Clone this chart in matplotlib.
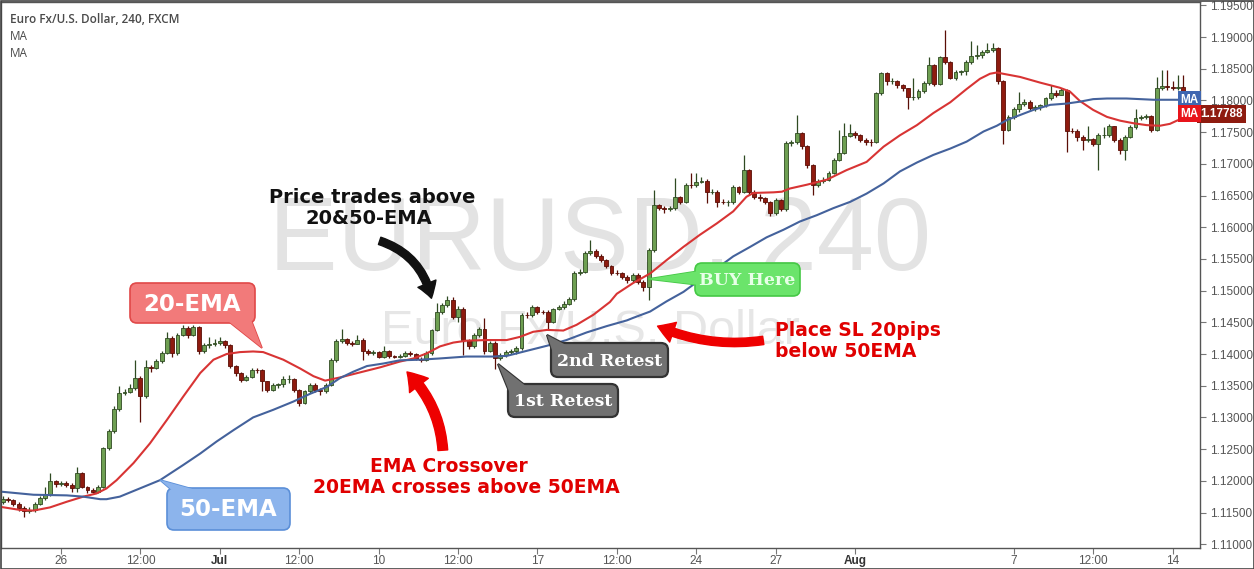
import matplotlib
matplotlib.use("Agg")
import matplotlib.pyplot as plt
from matplotlib.patches import FancyBboxPatch, Polygon, FancyArrowPatch, Rectangle
from matplotlib.transforms import blended_transform_factory
import numpy as np

W, H = 1254, 569

# ---------------- data (EUR/USD 4H candles) ----------------
first_open = 1.1166
closes = [1.1172, 1.1170, 1.1164, 1.1157, 1.1153, 1.1154, 1.1164, 1.1173, 1.1178, 1.1199,
          1.1195, 1.1196, 1.1194, 1.1188, 1.1213, 1.1191, 1.1185, 1.1183, 1.1191, 1.1251,
          1.1278, 1.1313, 1.1339, 1.1340, 1.1347, 1.1362, 1.1333, 1.1379, 1.1378, 1.1389,
          1.1402, 1.1426, 1.1402, 1.1430, 1.1441, 1.1430, 1.1442, 1.1405, 1.1414, 1.1415,
          1.1417, 1.1420, 1.1414, 1.1381, 1.1370, 1.1359, 1.1364, 1.1375, 1.1374, 1.1357,
          1.1344, 1.1351, 1.1352, 1.1360, 1.1361, 1.1343, 1.1323, 1.1341, 1.1351, 1.1343,
          1.1341, 1.1351, 1.1391, 1.1420, 1.1424, 1.1417, 1.1416, 1.1422, 1.1404, 1.1402,
          1.1403, 1.1396, 1.1405, 1.1397, 1.1396, 1.1397, 1.1401, 1.1400, 1.1392, 1.1391,
          1.1401, 1.1438, 1.1467, 1.1477, 1.1485, 1.1459, 1.1471, 1.1422, 1.1413, 1.1430,
          1.1439, 1.1405, 1.1417, 1.1393, 1.1399, 1.1403, 1.1404, 1.1409, 1.1462, 1.1461,
          1.1474, 1.1467, 1.1466, 1.1451, 1.1471, 1.1474, 1.1479, 1.1486, 1.1527, 1.1530,
          1.1559, 1.1563, 1.1555, 1.1548, 1.1539, 1.1528, 1.1527, 1.1522, 1.1516, 1.1525,
          1.1514, 1.1506, 1.1564, 1.1635, 1.1631, 1.1628, 1.1630, 1.1648, 1.1640, 1.1667,
          1.1666, 1.1672, 1.1673, 1.1655, 1.1656, 1.1640, 1.1639, 1.1640, 1.1663, 1.1656,
          1.1690, 1.1656, 1.1648, 1.1646, 1.1640, 1.1623, 1.1643, 1.1628, 1.1733, 1.1734,
          1.1749, 1.1728, 1.1698, 1.1666, 1.1673, 1.1675, 1.1686, 1.1706, 1.1717, 1.1744,
          1.1749, 1.1745, 1.1738, 1.1735, 1.1734, 1.1811, 1.1843, 1.1830, 1.1831, 1.1824,
          1.1819, 1.1805, 1.1806, 1.1815, 1.1827, 1.1856, 1.1826, 1.1869, 1.1860, 1.1836,
          1.1845, 1.1846, 1.1860, 1.1870, 1.1871, 1.1877, 1.1880, 1.1882, 1.1830, 1.1754,
          1.1774, 1.1786, 1.1795, 1.1798, 1.1788, 1.1789, 1.1792, 1.1803, 1.1812, 1.1809,
          1.1816, 1.1752, 1.1751, 1.1743, 1.1738, 1.1739, 1.1732, 1.1745, 1.1746, 1.1759,
          1.1738, 1.1722, 1.1743, 1.1758, 1.1773, 1.1774, 1.1775, 1.1754, 1.1819, 1.1822,
          1.1821, 1.1820, 1.1821, 1.1806, 1.1799, 1.1789]
highs = [1.1176, 1.1175, 1.1172, 1.1166, 1.1160, 1.1158, 1.1166, 1.1176, 1.1190, 1.1212,
         1.1202, 1.1200, 1.1199, 1.1196, 1.1221, 1.1214, 1.1192, 1.1188, 1.1193, 1.1253,
         1.1281, 1.1318, 1.1350, 1.1345, 1.1352, 1.1391, 1.1365, 1.1391, 1.1383, 1.1392,
         1.1405, 1.1435, 1.1428, 1.1433, 1.1445, 1.1444, 1.1446, 1.1444, 1.1418, 1.1427,
         1.1424, 1.1427, 1.1422, 1.1416, 1.1383, 1.1372, 1.1367, 1.1378, 1.1378, 1.1376,
         1.1358, 1.1354, 1.1355, 1.1366, 1.1367, 1.1362, 1.1345, 1.1344, 1.1354, 1.1354,
         1.1346, 1.1354, 1.1393, 1.1423, 1.1440, 1.1426, 1.1420, 1.1430, 1.1425, 1.1408,
         1.1406, 1.1405, 1.1412, 1.1407, 1.1399, 1.1400, 1.1404, 1.1404, 1.1402, 1.1395,
         1.1404, 1.1440, 1.1480, 1.1480, 1.1491, 1.1490, 1.1475, 1.1474, 1.1424, 1.1433,
         1.1443, 1.1456, 1.1420, 1.1420, 1.1402, 1.1406, 1.1408, 1.1412, 1.1464, 1.1466,
         1.1477, 1.1476, 1.1470, 1.1469, 1.1473, 1.1478, 1.1483, 1.1490, 1.1531, 1.1534,
         1.1562, 1.1580, 1.1565, 1.1557, 1.1550, 1.1540, 1.1532, 1.1530, 1.1524, 1.1528,
         1.1527, 1.1516, 1.1567, 1.1659, 1.1637, 1.1634, 1.1633, 1.1677, 1.1650, 1.1670,
         1.1686, 1.1686, 1.1679, 1.1676, 1.1661, 1.1658, 1.1645, 1.1643, 1.1666, 1.1665,
         1.1714, 1.1692, 1.1658, 1.1652, 1.1648, 1.1642, 1.1646, 1.1645, 1.1736, 1.1738,
         1.1777, 1.1750, 1.1730, 1.1700, 1.1676, 1.1679, 1.1689, 1.1709, 1.1753, 1.1764,
         1.1763, 1.1752, 1.1747, 1.1740, 1.1739, 1.1814, 1.1845, 1.1845, 1.1835, 1.1832,
         1.1826, 1.1820, 1.1836, 1.1818, 1.1830, 1.1869, 1.1858, 1.1870, 1.1911, 1.1862,
         1.1848, 1.1848, 1.1863, 1.1894, 1.1887, 1.1880, 1.1890, 1.1890, 1.1884, 1.1832,
         1.1777, 1.1789, 1.1814, 1.1802, 1.1800, 1.1792, 1.1795, 1.1806, 1.1824, 1.1816,
         1.1819, 1.1818, 1.1757, 1.1755, 1.1746, 1.1760, 1.1740, 1.1748, 1.1758, 1.1763,
         1.1760, 1.1740, 1.1746, 1.1761, 1.1786, 1.1777, 1.1778, 1.1777, 1.1837, 1.1848,
         1.1848, 1.1830, 1.1840, 1.1840, 1.1808, 1.1800]
lows = [1.1163, 1.1166, 1.1160, 1.1152, 1.1143, 1.1149, 1.1151, 1.1162, 1.1170, 1.1176,
        1.1190, 1.1192, 1.1190, 1.1183, 1.1183, 1.1188, 1.1180, 1.1180, 1.1181, 1.1189,
        1.1249, 1.1275, 1.1310, 1.1335, 1.1338, 1.1343, 1.1293, 1.1330, 1.1372, 1.1376,
        1.1386, 1.1400, 1.1395, 1.1398, 1.1428, 1.1426, 1.1428, 1.1400, 1.1402, 1.1410,
        1.1412, 1.1414, 1.1410, 1.1378, 1.1366, 1.1356, 1.1357, 1.1362, 1.1370, 1.1342,
        1.1340, 1.1342, 1.1347, 1.1348, 1.1355, 1.1340, 1.1318, 1.1321, 1.1338, 1.1340,
        1.1336, 1.1338, 1.1349, 1.1387, 1.1418, 1.1414, 1.1413, 1.1415, 1.1391, 1.1398,
        1.1398, 1.1393, 1.1394, 1.1393, 1.1393, 1.1394, 1.1395, 1.1397, 1.1390, 1.1388,
        1.1389, 1.1399, 1.1436, 1.1463, 1.1474, 1.1455, 1.1450, 1.1398, 1.1408, 1.1410,
        1.1427, 1.1400, 1.1403, 1.1376, 1.1390, 1.1396, 1.1400, 1.1400, 1.1407, 1.1457,
        1.1458, 1.1463, 1.1463, 1.1440, 1.1449, 1.1469, 1.1471, 1.1477, 1.1484, 1.1524,
        1.1528, 1.1556, 1.1551, 1.1545, 1.1535, 1.1525, 1.1524, 1.1519, 1.1512, 1.1514,
        1.1510, 1.1500, 1.1485, 1.1561, 1.1627, 1.1622, 1.1625, 1.1627, 1.1636, 1.1638,
        1.1662, 1.1663, 1.1669, 1.1638, 1.1652, 1.1632, 1.1636, 1.1634, 1.1637, 1.1652,
        1.1654, 1.1651, 1.1644, 1.1641, 1.1636, 1.1617, 1.1620, 1.1625, 1.1626, 1.1728,
        1.1731, 1.1724, 1.1694, 1.1651, 1.1663, 1.1670, 1.1673, 1.1684, 1.1704, 1.1715,
        1.1742, 1.1740, 1.1734, 1.1730, 1.1728, 1.1733, 1.1808, 1.1825, 1.1826, 1.1820,
        1.1815, 1.1787, 1.1801, 1.1802, 1.1812, 1.1825, 1.1822, 1.1824, 1.1857, 1.1833,
        1.1832, 1.1840, 1.1840, 1.1857, 1.1866, 1.1867, 1.1874, 1.1877, 1.1826, 1.1731,
        1.1751, 1.1771, 1.1782, 1.1791, 1.1784, 1.1783, 1.1785, 1.1790, 1.1800, 1.1806,
        1.1808, 1.1719, 1.1748, 1.1736, 1.1722, 1.1734, 1.1728, 1.1690, 1.1740, 1.1742,
        1.1734, 1.1715, 1.1706, 1.1740, 1.1755, 1.1769, 1.1770, 1.1750, 1.1752, 1.1816,
        1.1816, 1.1816, 1.1816, 1.1803, 1.1795, 1.1785]

# moving averages (candle position, price)
ma20_x = [-0.5, 3.3, 5.8, 8.9, 12.1, 15.2, 17.7, 19.6, 21.5, 24.7, 27.8, 31.0, 34.1, 37.3,
          39.8, 42.3, 44.8, 47.3, 49.2, 53.0, 56.2, 58.7, 60.9, 63.7, 67.5, 71.3, 75.0, 77.6,
          80.1, 82.6, 85.1, 87.6, 91.4, 95.2, 97.7, 100.2, 102.8, 105.9, 108.4, 111.6, 114.7,
          116.0, 119.1, 122.3, 125.4, 128.6, 131.7, 134.9, 138.0, 140.5, 141.8, 145.6, 147.2,
          148.7, 151.9, 155.7, 159.4, 163.2, 166.4, 169.5, 172.7, 175.8, 179.0, 182.1, 184.6,
          186.5, 187.8, 189.0, 192.2, 196.0, 199.7, 201.6, 203.5, 206.0, 208.6, 211.1, 213.6,
          216.1, 218.6, 220.5, 221.8, 223.5, 225.0]
ma20_y = [1.1159, 1.1154, 1.1153, 1.1158, 1.1167, 1.1175, 1.1180, 1.1188, 1.1201, 1.1228,
          1.1259, 1.1296, 1.1333, 1.1370, 1.1391, 1.1400, 1.1403, 1.1404, 1.1403, 1.1391,
          1.1377, 1.1365, 1.1358, 1.1363, 1.1371, 1.1379, 1.1388, 1.1393, 1.1401, 1.1412,
          1.1418, 1.1421, 1.1422, 1.1422, 1.1427, 1.1435, 1.1438, 1.1437, 1.1446, 1.1462,
          1.1482, 1.1495, 1.1512, 1.1527, 1.1548, 1.1569, 1.1588, 1.1606, 1.1625, 1.1648,
          1.1654, 1.1655, 1.1656, 1.1661, 1.1667, 1.1675, 1.1690, 1.1703, 1.1727, 1.1745,
          1.1761, 1.1780, 1.1797, 1.1818, 1.1834, 1.1842, 1.1844, 1.1842, 1.1837, 1.1828,
          1.1820, 1.1814, 1.1799, 1.1785, 1.1774, 1.1768, 1.1764, 1.1761, 1.1760, 1.1763,
          1.1768, 1.1774, 1.1778]
ma50_x = [-0.5, 5.8, 12.1, 15.2, 18.4, 19.6, 22.1, 25.9, 29.7, 34.1, 37.3, 40.4, 43.6, 47.3,
          51.1, 54.9, 58.0, 61.2, 63.7, 66.2, 68.8, 71.9, 75.0, 78.8, 82.6, 87.6, 92.7, 95.2,
          99.0, 102.8, 106.5, 110.3, 114.1, 117.9, 119.1, 122.3, 125.4, 128.6, 131.7, 134.9,
          138.0, 141.2, 144.3, 147.5, 150.6, 153.8, 156.9, 160.1, 163.2, 166.4, 169.5, 172.7,
          175.8, 179.0, 182.1, 185.3, 187.8, 189.7, 192.2, 194.7, 197.9, 201.0, 203.5, 206.0,
          208.6, 212.3, 214.9, 217.4, 221.2, 225.0]
ma50_y = [1.1183, 1.1178, 1.1177, 1.1175, 1.1171, 1.1171, 1.1175, 1.1188, 1.1201, 1.1225,
          1.1243, 1.1262, 1.1280, 1.1300, 1.1312, 1.1325, 1.1337, 1.1348, 1.1362, 1.1372,
          1.1381, 1.1385, 1.1390, 1.1391, 1.1393, 1.1396, 1.1396, 1.1397, 1.1405, 1.1413,
          1.1422, 1.1434, 1.1444, 1.1453, 1.1457, 1.1467, 1.1483, 1.1498, 1.1517, 1.1535,
          1.1554, 1.1569, 1.1584, 1.1596, 1.1609, 1.1619, 1.1630, 1.1640, 1.1653, 1.1669,
          1.1688, 1.1702, 1.1714, 1.1724, 1.1735, 1.1751, 1.1760, 1.1769, 1.1777, 1.1785,
          1.1793, 1.1795, 1.1798, 1.1802, 1.1803, 1.1803, 1.1802, 1.1801, 1.1801, 1.1801]

tick_pos = [11, 26, 41, 56, 71, 86, 101, 116, 131, 146, 161, 191, 206, 221]
tick_labels = ['26', '12:00', 'Jul', '12:00', '10', '12:00', '17', '12:00',
               '24', '27', 'Aug', '7', '12:00', '14']
y_ticks = [1.110, 1.115, 1.120, 1.125, 1.130, 1.135, 1.140, 1.145, 1.150,
           1.155, 1.160, 1.165, 1.170, 1.175, 1.180, 1.185, 1.190, 1.195]
last_price = 1.17788

# ---------------- figure ----------------
fig = plt.figure(figsize=(W / 100, H / 100), dpi=100, facecolor='white')

bg = fig.add_axes([0, 0, 1, 1], zorder=0)
bg.set_xlim(0, W); bg.set_ylim(H, 0); bg.axis('off')

ax_l, ax_r, ax_t, ax_b = 1, 1200, 2, 548
ax = fig.add_axes([ax_l / W, 1 - ax_b / H, (ax_r - ax_l) / W, (ax_b - ax_t) / H], zorder=1)
ax.set_facecolor('none')

ov = fig.add_axes([0, 0, 1, 1], zorder=3)
ov.set_xlim(0, W); ov.set_ylim(H, 0); ov.axis('off')
ov.patch.set_alpha(0)

# watermarks
bg.text(600, 243, 'EURUSD, 240', fontsize=74, family='Liberation Sans', color='#E3E3E3',
        ha='center', va='center')
bg.text(590, 331, 'Euro Fx/U.S. Dollar', fontsize=35, family='Liberation Sans', color='#E6E6E6',
        ha='center', va='center')

# candles
n = len(closes)
x = np.arange(n)
opens = np.array([first_open] + closes[:-1])
c = np.array(closes)
hi = np.maximum(np.array(highs), np.maximum(opens, c))
lo = np.minimum(np.array(lows), np.minimum(opens, c))
up = c >= opens
green_fc, green_ec = '#6E9F52', '#2F4A22'
red_fc, red_ec = '#8E1B0F', '#5A0E06'
fcs = [green_fc if u else red_fc for u in up]
ecs = [green_ec if u else red_ec for u in up]
ax.vlines(x, lo, hi, colors=ecs, linewidth=0.9, zorder=2)
body_h = np.maximum(np.abs(c - opens), 0.00004)
body_b = np.minimum(c, opens)
ax.bar(x, body_h, bottom=body_b, width=0.74, color=fcs, edgecolor=ecs, linewidth=0.6, zorder=3)

# moving averages
ax.plot(ma20_x, ma20_y, color='#D83434', linewidth=1.5, zorder=4, solid_joinstyle='round')
ax.plot(ma50_x, ma50_y, color='#44629C', linewidth=1.5, zorder=4, solid_joinstyle='round')

px_per = 5.293
x0 = 2.8
ax.set_xlim((ax_l - x0) / px_per, (ax_r - x0) / px_per)
ax.set_ylim(1.19 - (ax_b - 37) * 0.005 / 31.7, 1.19 + (37 - ax_t) * 0.005 / 31.7)

ax.yaxis.tick_right()
ax.set_yticks(y_ticks)
ax.set_yticklabels([f'{v:.5f}' for v in y_ticks])
ax.set_xticks(tick_pos)
ax.set_xticklabels(tick_labels)
for lab in ax.get_xticklabels() + ax.get_yticklabels():
    lab.set_family('Liberation Sans')
    lab.set_fontsize(8.5)
    lab.set_color('#555555')
for lab in ax.get_xticklabels():
    if lab.get_text() in ('Jul', 'Aug'):
        lab.set_fontweight('bold')
        lab.set_color('#333333')
ax.tick_params(axis='y', direction='out', length=4, width=0.8, color='#777777', pad=3)
ax.tick_params(axis='x', direction='out', length=4, width=0.8, color='#777777', pad=1)
for s in ax.spines.values():
    s.set_color('#555555')
    s.set_linewidth(1.0)

# right side labels
bt = blended_transform_factory(ax.transAxes, ax.transData)
ax.text(1.0, last_price, '1.17788', transform=bt, ha='left', va='center', fontsize=8.5,
        family='Liberation Sans', weight='bold', color='white', clip_on=False, zorder=10,
        bbox=dict(boxstyle='square,pad=0.28', fc='#8E1B0F', ec='none'))
ax.text(0.9985, ma50_y[-1], 'MA', transform=bt, ha='right', va='center', fontsize=8.5,
        family='Liberation Sans', weight='bold', color='white', clip_on=False, zorder=9,
        bbox=dict(boxstyle='square,pad=0.2', fc='#3F66B0', ec='none'))
ax.text(0.9985, last_price, 'MA', transform=bt, ha='right', va='center', fontsize=8.5,
        family='Liberation Sans', weight='bold', color='white', clip_on=False, zorder=10,
        bbox=dict(boxstyle='square,pad=0.2', fc='#E8141B', ec='none'))

# header
ov.text(10, 19, 'Euro Fx/U.S. Dollar, 240, FXCM', fontsize=8.5, family='Open Sans',
        weight='semibold', color='#4A4A4A', va='center', ha='left')
ov.text(10, 36, 'MA', fontsize=8.5, family='Open Sans', color='#4A4A4A', va='center', ha='left')
ov.text(10, 53, 'MA', fontsize=8.5, family='Open Sans', color='#4A4A4A', va='center', ha='left')

# outer border
ov.add_patch(Rectangle((0.5, 0.5), W - 1, H - 1, fill=False, ec='#444444', lw=1.2, zorder=20))


def bubble(x0b, y0b, x1b, y1b, tail, fc, ec, text, tcolor, fs, family, r=7, lw=1.2):
    ov.add_patch(Polygon(tail, closed=True, fc=fc, ec=ec, lw=lw, zorder=5))
    ov.add_patch(FancyBboxPatch((x0b, y0b), x1b - x0b, y1b - y0b,
                                boxstyle=f'round,pad=0,rounding_size={r}',
                                fc=fc, ec=ec, lw=lw, zorder=6))
    ov.add_patch(Polygon(tail, closed=True, fc=fc, ec='none', zorder=7))
    ov.text((x0b + x1b) / 2, (y0b + y1b) / 2 + 1, text, ha='center', va='center',
            fontsize=fs, family=family, weight='bold', color=tcolor, zorder=8)


bubble(130, 283, 255, 323, [(228, 321), (250, 317), (262, 348)],
       '#F27A7A', '#E04848', '20-EMA', 'white', 16.5, 'DejaVu Sans')
bubble(167, 488, 290, 530, [(174, 492), (196, 490), (160, 480)],
       '#8CB4EC', '#5B8FD8', '50-EMA', 'white', 16.5, 'DejaVu Sans')
bubble(695, 263, 800, 296, [(699, 271), (699, 285), (648, 279)],
       '#6BE46B', '#45C845', 'BUY Here', '#E8FFE8', 12.5, 'DejaVu Serif')
bubble(551, 343, 668, 377, [(547, 335), (554, 356), (568, 346)],
       '#717171', '#333333', '2nd Retest', 'white', 12.5, 'DejaVu Serif', lw=1.6)
bubble(508, 384, 618, 417, [(498, 364), (511, 396), (527, 387)],
       '#717171', '#333333', '1st Retest', 'white', 12.5, 'DejaVu Serif', lw=1.6)

# annotation texts
ov.text(372, 197, 'Price trades above', ha='center', va='center', fontsize=14,
        family='DejaVu Sans', weight='bold', color='#111111')
ov.text(369, 218, '20&50-EMA', ha='center', va='center', fontsize=14,
        family='DejaVu Sans', weight='bold', color='#111111')
ov.text(449, 466, 'EMA Crossover', ha='center', va='center', fontsize=13.5,
        family='DejaVu Sans', weight='bold', color='#E00000')
ov.text(466, 487, '20EMA crosses above 50EMA', ha='center', va='center', fontsize=13.5,
        family='DejaVu Sans', weight='bold', color='#E00000')
ov.text(775, 330, 'Place SL 20pips', ha='left', va='center', fontsize=13.5,
        family='DejaVu Sans', weight='bold', color='#E00000')
ov.text(775, 351, 'below 50EMA', ha='left', va='center', fontsize=13.5,
        family='DejaVu Sans', weight='bold', color='#E00000')

# arrows
ov.add_patch(FancyArrowPatch((377, 240), (432, 301), transform=ov.transData,
                             connectionstyle='arc3,rad=-0.3',
                             arrowstyle='simple,head_length=11,head_width=14,tail_width=5.5',
                             color='#111111', zorder=9))
ov.add_patch(FancyArrowPatch((443, 453), (405, 370), transform=ov.transData,
                             connectionstyle='arc3,rad=0.2',
                             arrowstyle='simple,head_length=13,head_width=17,tail_width=7',
                             color='#EE0000', zorder=9))
ov.add_patch(FancyArrowPatch((766, 340), (655, 325), transform=ov.transData,
                             connectionstyle='arc3,rad=-0.15',
                             arrowstyle='simple,head_length=12,head_width=15,tail_width=6',
                             color='#EE0000', zorder=9))

fig.savefig('out.png', dpi=100, facecolor='white')
